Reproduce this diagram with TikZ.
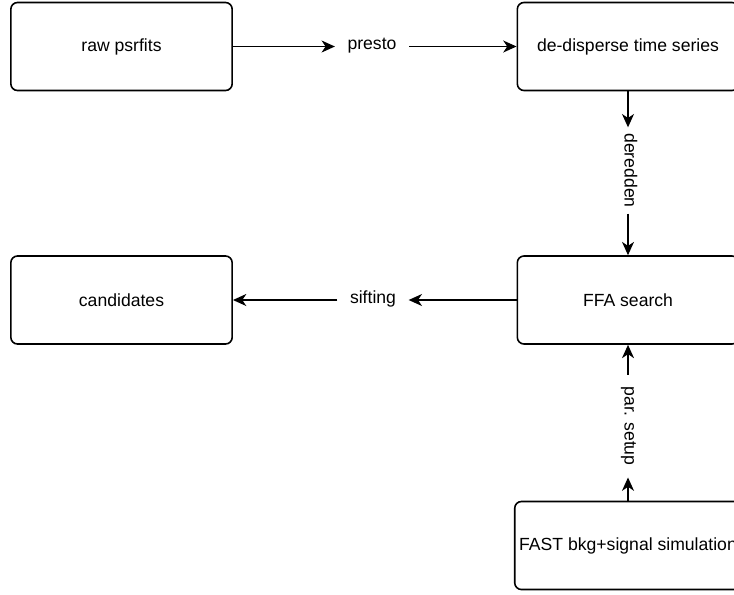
\documentclass[tikz,border=0pt]{standalone}
\usepackage{fontspec}
\setmainfont{Liberation Sans}
\usetikzlibrary{arrows.meta}

\begin{document}
\begin{tikzpicture}[x=0.75pt,y=-0.75pt,line width=1pt,
  link/.style={-{Stealth[length=10pt,width=9pt,inset=3pt]}},
  block/.style={rectangle,draw=black,line width=1.2pt,rounded corners=5pt,
    minimum width=166pt,minimum height=66pt,font=\fontsize{13.2}{16}\selectfont},
  edgetext/.style={inner xsep=9pt,inner ysep=2pt,text height=7pt,text depth=2pt,
    font=\fontsize{13.2}{16}\selectfont}]
\clip (0,0) rectangle (734,594);
\node at (121.5,  46.5) (raw)    [block] {raw psrfits};
\node at (628,    46.5) (dedisp) [block] {de-disperse time series};
\node at (121.5, 300)   (cand)   [block] {candidates};
\node at (628,   300)   (ffa)    [block] {FFA search};
\node at (628,   545.5) (fast)   [block] {FAST bkg+signal simulation};
\node at (372,    46.5) (presto) [edgetext] {presto};
\node at (373,   300)   (sift)   [edgetext] {sifting};
\node at (628,   170.5) (dered)  [edgetext,rotate=-90,inner xsep=4pt] {deredden};
\node at (628,   426)   (setup)  [edgetext,rotate=-90,inner xsep=8.5pt] {par. setup};
\draw [link] (raw.east) -- (presto.west);
\draw [link] (presto.east) -- (dedisp.west);
\draw [link] (dedisp.south) -- (dered.west);
\draw [link] (dered.east) -- (ffa.north);
\draw [link] (ffa.west) -- (sift.east);
\draw [link] (sift.west) -- (cand.east);
\draw [link] (fast.north) -- (setup.east);
\draw [link] (setup.west) -- (ffa.south);
\end{tikzpicture}
\end{document}
